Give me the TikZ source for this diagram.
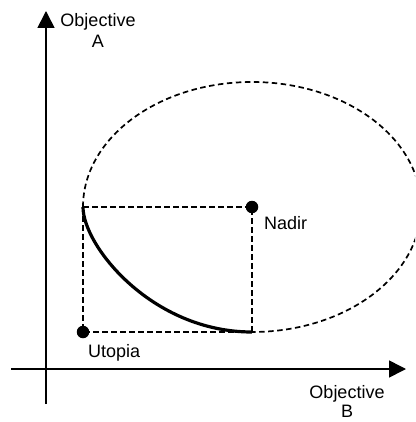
\documentclass[tikz,border=0pt]{standalone}
\usepackage{fontspec}
\setmainfont{Liberation Sans}
\usetikzlibrary{arrows.meta}
\tikzset{
  axis/.style={line width=1.6pt, -{Triangle[length=17pt,width=17pt]}},
  guide/.style={line width=1.7pt, dash pattern=on 5.5pt off 3.5pt},
  front/.style={line width=3.2pt},
  dot/.style={circle, fill=black, inner sep=0pt, minimum size=12.5pt},
  lbl/.style={font=\fontsize{18}{20.5}\selectfont, inner sep=0pt, align=center}
}
\begin{document}
\begin{tikzpicture}[x=1pt, y=-1pt]
  \useasboundingbox (0,0) rectangle (415,422);

  % axes
  \coordinate (vbot) at (46,404);
  \coordinate (vtop) at (46,11);
  \coordinate (hleft) at (11,369);
  \coordinate (hright) at (406,369);
  \draw[axis] (vbot) -- (vtop);
  \draw[axis] (hleft) -- (hright);

  % key points
  \coordinate (ut) at (83,332);
  \coordinate (nd) at (252,207);
  \coordinate (tl) at (83,207);
  \coordinate (br) at (252,332);

  % dashed box between utopia and nadir
  \draw[guide] (tl) -- (nd) -- (br);
  \draw[guide] (tl) -- (ut) -- (br);

  % dashed outline of the feasible region
  \begin{scope}
    \clip (0,0) rectangle (415,422);
    \draw[guide] (tl) arc[start angle=180, end angle=-90, x radius=169pt, y radius=125pt];
  \end{scope}

  % Pareto front
  \draw[front] (tl) .. controls (83,246) and (152,332) .. (br);

  % points
  \node[dot] (utopia) at (ut) {};
  \node[dot] (nadir) at (nd) {};

  % labels
  \node[lbl, anchor=north] (objA) at (98,13.5) {Objective\\A};
  \node[lbl, anchor=north, font=\fontsize{18}{19.5}\selectfont] (objB) at (347,385) {Objective\\B};
  \node[lbl, anchor=base west] (nadirlbl) at (264,229) {Nadir};
  \node[lbl, anchor=base west] (utopialbl) at (88,357) {Utopia};
\end{tikzpicture}
\end{document}
